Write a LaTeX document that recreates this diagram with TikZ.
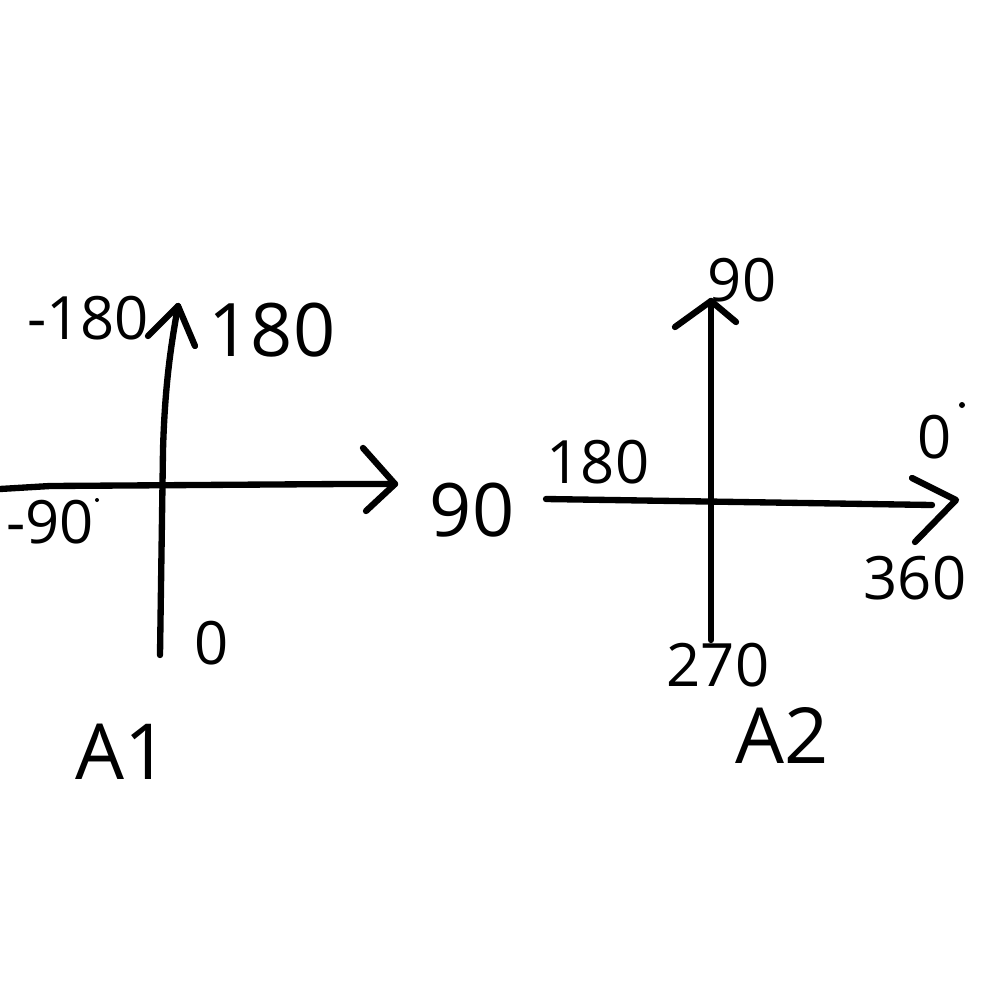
\documentclass[tikz,border=0pt]{standalone}
\usepackage{fontspec}
\setmainfont{Open Sans}
\begin{document}
\begin{tikzpicture}[x=0.01cm,y=-0.01cm,
  stroke/.style={line width=1.8pt,line cap=round,line join=round},
  lbl/.style={font=\fontsize{17}{17}\selectfont,inner sep=0pt},
  big/.style={font=\fontsize{21}{21}\selectfont,inner sep=0pt},
  title/.style={font=\fontsize{22}{22}\selectfont,inner sep=0pt}]
\useasboundingbox (0,0) rectangle (1000,1000);
% ---------- A1 ----------
\coordinate (a1b) at (160,655);
\coordinate (a1t) at (178,306);
\coordinate (a1l) at (0,489);
\coordinate (a1r) at (395,484);
\draw[stroke] (a1b) -- (163,450) .. controls (165,380) and (172,340) .. (a1t);
\draw[stroke] (148,336) -- (a1t) -- (195,346);
\draw[stroke] (a1l) -- (50,486) -- (345,484) -- (a1r);
\draw[stroke] (363,448) -- (a1r) -- (366,511);
\node[lbl] (m180) at (88,318) {-180};
\node[big] (p180) at (272,330) {180};
\node[big] (n90) at (472,510) {90};
\node[lbl] (m90) at (50,522) {-90};
\fill (97,500) circle (2);
\node[lbl] (z0) at (212,643) {0};
\node[title] (A1) at (122,752) {A1};
% ---------- A2 ----------
\coordinate (a2b) at (711,640);
\coordinate (a2t) at (711,301);
\coordinate (a2l) at (546,499);
\coordinate (a2r) at (956,500);
\draw[stroke] (a2b) -- (a2t);
\draw[stroke] (675,327) -- (a2t) -- (736,322);
\draw[stroke] (a2l) -- (932,505);
\draw[stroke] (912,478) -- (a2r) -- (915,542);
\node[lbl] (b90) at (742,280) {90};
\node[lbl] (b180) at (598,462) {180};
\node[lbl] (b0) at (935,437) {0};
\fill (962,405) circle (3);
\node[lbl] (b360) at (915,578) {360};
\node[lbl] (b270) at (718,665) {270};
\node[title] (A2) at (782,735) {A2};
\end{tikzpicture}
\end{document}
